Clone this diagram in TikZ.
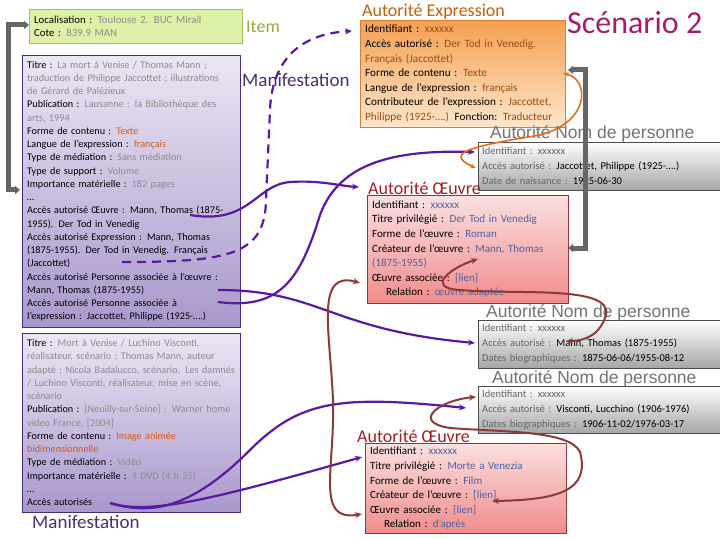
\documentclass[tikz,border=0pt]{standalone}
\usepackage{fontspec}
\setmainfont{Carlito}
\newfontfamily\arialf{Liberation Sans}
\usetikzlibrary{arrows.meta}
\definecolor{gv}{HTML}{8C8C8C}
\definecolor{ov}{HTML}{D05A20}
\definecolor{ev}{HTML}{A04A10}
\definecolor{bv}{HTML}{5060A0}
\definecolor{pur}{HTML}{5A1AA0}
\definecolor{brn}{HTML}{8B3A3A}
\definecolor{mag}{HTML}{A0206A}
\definecolor{manTop}{HTML}{ECE6F4}
\definecolor{manBot}{HTML}{A898CC}
\definecolor{manDraw}{HTML}{4A2A7A}
\definecolor{oeTop}{HTML}{FCE0E0}
\definecolor{oeBot}{HTML}{F08C8C}
\definecolor{itDraw}{HTML}{9AC060}
\definecolor{itFill}{HTML}{DDF2A8}
\definecolor{itText}{HTML}{9AA840}
\definecolor{manText}{HTML}{4A3070}
\definecolor{exDraw}{HTML}{D08040}
\definecolor{exTop}{HTML}{F5A050}
\definecolor{exBot}{HTML}{FDE6CC}
\definecolor{exText}{HTML}{C06010}
\definecolor{oeText}{HTML}{A02020}
\definecolor{orng}{HTML}{E07020}
\newcommand{\gvx}[1]{\textcolor{gv}{#1}}
\newcommand{\ovx}[1]{\textcolor{ov}{#1}}
\newcommand{\evx}[1]{\textcolor{ev}{#1}}
\newcommand{\bvx}[1]{\textcolor{bv}{#1}}
\begin{document}
\begin{tikzpicture}[x=1pt,y=-1pt,
 box/.style={anchor=north west,draw,align=left,inner xsep=5pt,inner ysep=4pt},
 man/.style={box,draw=manDraw,top color=manTop,bottom color=manBot,text width=208pt,minimum width=218pt,font=\fontsize{10.2}{13.25}\selectfont},
 pers/.style={box,draw=black!70,top color=white,bottom color=black!35,text width=234pt,minimum width=242pt,minimum height=48pt,inner xsep=4pt,font=\fontsize{10.5}{15}\selectfont},
 oeu/.style={box,draw=brn,top color=oeTop,bottom color=oeBot,text width=191pt,minimum width=201pt,font=\fontsize{11}{14.6}\selectfont},
 ttl/.style={anchor=west,inner sep=0pt},
 parr/.style={pur,line width=2.2pt,-{Stealth[length=7pt,width=6pt]}},
 barr/.style={brn,line width=2pt,{Stealth[length=7pt,width=6pt]}-{Stealth[length=7pt,width=6pt]}},
 gbr/.style={black!60,line width=5pt,{Triangle[length=5pt,width=8pt]}-{Triangle[length=5pt,width=8pt]}}]
\useasboundingbox[fill=white] (0,0) rectangle (720,540);

\node[box,draw=itDraw,fill=itFill,text width=203pt,minimum width=213pt,minimum height=34pt,font=\fontsize{10.8}{13.25}\selectfont] (item) at (29,9)
 {Localisation : \gvx{Toulouse 2. BUC Mirail}\\Cote : \gvx{839.9 MAN}};
\node[ttl,font=\fontsize{18}{20}\selectfont,text=itText] (itemt) at (246,27) {Item};

\node[man,minimum height=272pt] (m1) at (22,55)
{Titre : \gvx{La mort à Venise / Thomas Mann ;}\\
\gvx{traduction de Philippe Jaccottet ; illustrations}\\
\gvx{de Gérard de Palézieux}\\
Publication : \gvx{Lausanne : la Bibliothèque des}\\
\gvx{arts, 1994}\\
Forme de contenu : \ovx{Texte}\\
Langue de l’expression : \ovx{français}\\
Type de médiation : \gvx{Sans médiation}\\
Type de support : \gvx{Volume}\\
Importance matérielle : \gvx{182 pages}\\
…\\
Accès autorisé Œuvre : Mann, Thomas (1875-\\
1955). Der Tod in Venedig\\
Accès autorisé Expression : Mann, Thomas\\
(1875-1955). Der Tod in Venedig. Français\\
(Jaccottet)\\
Accès autorisé Personne associée à l’œuvre :\\
Mann, Thomas (1875-1955)\\
Accès autorisé Personne associée à\\
l’expression : Jaccottet, Philippe (1925-….)};
\node[ttl,font=\fontsize{19}{21}\selectfont,text=manText] (m1t) at (242,80) {Manifestation};

\node[man,minimum height=179pt] (m2) at (22,333)
{Titre : \gvx{Mort à Venise / Luchino Visconti,}\\
\gvx{réalisateur, scénario ; Thomas Mann, auteur}\\
\gvx{adapté ; Nicola Badalucco, scénario. Les damnés}\\
\gvx{/ Luchino Visconti, réalisateur, mise en scène,}\\
\gvx{scénario}\\
Publication : \gvx{[Neuilly-sur-Seine] : Warner home}\\
\gvx{video France, [2004]}\\
Forme de contenu : \ovx{Image animée}\\
\ovx{bidimensionnelle}\\
Type de médiation : \gvx{Vidéo}\\
Importance matérielle : \gvx{4 DVD (4 h 35)}\\
…\\
Accès autorisés};
\node[ttl,font=\fontsize{19}{21}\selectfont,text=manText] (m2t) at (32,522) {Manifestation};

\node[box,draw=exDraw,top color=exTop,bottom color=exBot,text width=195pt,minimum width=205pt,minimum height=107pt,font=\fontsize{11.2}{14.6}\selectfont] (ex) at (360,20)
{Identifiant : \evx{xxxxxx}\\
Accès autorisé : \evx{Der Tod in Venedig.}\\
\evx{Français (Jaccottet)}\\
Forme de contenu : \evx{Texte}\\
Langue de l’expression : \evx{français}\\
Contributeur de l’expression : \evx{Jaccottet,}\\
\evx{Philippe (1925-….)} Fonction: \evx{Traducteur}};
\node[ttl,font=\fontsize{18}{20}\selectfont,text=exText] (ext) at (362,12) {Autorité Expression};
\node[ttl,font=\fontsize{32}{34}\selectfont,text=mag] (sc) at (567,23) {Scénario 2};

\node[pers] (p1) at (478,142)
{\textcolor{black!60}{Identifiant : xxxxxx}\\
\textcolor{black!60}{Accès autorisé :} Jaccottet, Philippe (1925-….)\\
\textcolor{black!60}{Date de naissance :} 1925-06-30};
\node[ttl,font=\arialf\fontsize{17.5}{19}\selectfont,text=black!55] (p1t) at (490,134) {Autorité Nom de personne};

\node[oeu,minimum height=108pt] (o1) at (367,195)
{Identifiant : \bvx{xxxxxx}\\
Titre privilégié : \bvx{Der Tod in Venedig}\\
Forme de l’œuvre : \bvx{Roman}\\
Créateur de l’œuvre : \bvx{Mann, Thomas}\\
\bvx{(1875-1955)}\\
Œuvre associée : \bvx{[lien]}\\
\hspace*{14pt}Relation : \bvx{œuvre adaptée}};
\node[ttl,font=\fontsize{18}{20}\selectfont,text=oeText] (o1t) at (368,188) {Autorité Œuvre};

\node[pers] (p2) at (478,320)
{\textcolor{black!60}{Identifiant : xxxxxx}\\
\textcolor{black!60}{Accès autorisé :} Mann, Thomas (1875-1955)\\
\textcolor{black!60}{Dates biographiques :} 1875-06-06/1955-08-12};
\node[ttl,font=\arialf\fontsize{17.5}{19}\selectfont,text=black!55] (p2t) at (486,313) {Autorité Nom de personne};

\node[pers,minimum height=46pt] (p3) at (478,386)
{\textcolor{black!60}{Identifiant : xxxxxx}\\
\textcolor{black!60}{Accès autorisé :} Visconti, Lucchino (1906-1976)\\
\textcolor{black!60}{Dates biographiques :} 1906-11-02/1976-03-17};
\node[ttl,font=\arialf\fontsize{17.5}{19}\selectfont,text=black!55] (p3t) at (492,379) {Autorité Nom de personne};

\node[oeu,minimum height=87pt] (o2) at (365,443)
{Identifiant : \bvx{xxxxxx}\\
Titre privilégié : \bvx{Morte a Venezia}\\
Forme de l’œuvre : \bvx{Film}\\
Créateur de l’œuvre : \bvx{[lien]}\\
Œuvre associée : \bvx{[lien]}\\
\hspace*{14pt}Relation : \bvx{d’après}};
\node[ttl,font=\fontsize{18}{20}\selectfont,text=oeText] (o2t) at (357,436) {Autorité Œuvre};

% anchor coordinates
\coordinate (itL) at (29,25);
\coordinate (m1L) at (20,190);
\coordinate (exR) at (568,70);
\coordinate (o1R) at (568,248);
\coordinate (m1ex) at (122,262);
\coordinate (exIn) at (352,31);
\coordinate (m1oe) at (190,215);
\coordinate (o1In) at (359,187);
\coordinate (m1pe) at (218,302);
\coordinate (p1In) at (475,152);
\coordinate (m1po) at (218,290);
\coordinate (p2In) at (475,343);
\coordinate (m2ac) at (110,503);
\coordinate (p3In) at (466,408);
\coordinate (o2In) at (362,457);
\coordinate (o1as) at (360,283);
\coordinate (o2as) at (362,514);
\coordinate (o1cr) at (478,259);
\coordinate (p2ac) at (566,341);
\coordinate (o2cr) at (492,501);
\coordinate (p3id) at (476,397);
\coordinate (exCt) at (563,73);
\coordinate (p1ac) at (476,168);

\draw[gbr] (itL) -- (8,25) -- (8,190) -- (m1L);
\draw[gbr] (exR) -- (585,70) -- (585,248) -- (o1R);

\draw[parr,dash pattern=on 9pt off 6pt] (m1ex) .. controls (230,262) and (265,255) .. (266,200) -- (270,110) .. controls (272,60) and (300,34) .. (exIn);
\draw[parr] (m1oe) .. controls (250,225) and (255,185) .. (290,182) .. controls (320,180) and (340,186) .. (o1In);
\draw[parr] (m1pe) .. controls (280,310) and (300,280) .. (320,215) .. controls (340,160) and (400,150) .. (p1In);
\draw[parr] (m1po) .. controls (320,290) and (330,330) .. (p2In);
\draw[parr] (m2ac) .. controls (150,515) and (190,510) .. (250,450) .. controls (300,400) and (340,395) .. (p3In);
\draw[parr] (m2ac) .. controls (150,515) and (210,500) .. (o2In);

\draw[barr] (o1as) .. controls (315,270) and (330,330) .. (333,400) .. controls (335,470) and (315,522) .. (o2as);
\draw[barr] (o1cr) .. controls (450,268) and (425,288) .. (460,290) .. controls (520,295) and (612,285) .. (606,315) .. controls (600,335) and (585,341) .. (p2ac);
\draw[barr] (o2cr) .. controls (560,500) and (590,490) .. (580,452) .. controls (570,430) and (500,432) .. (450,428) .. controls (410,422) and (440,400) .. (p3id);
\draw[orng,line width=1.6pt,{Stealth[length=6pt]}-{Stealth[length=6pt]}] (exCt) .. controls (590,80) and (590,122) .. (540,135) .. controls (480,145) and (440,152) .. (p1ac);
\end{tikzpicture}
\end{document}
